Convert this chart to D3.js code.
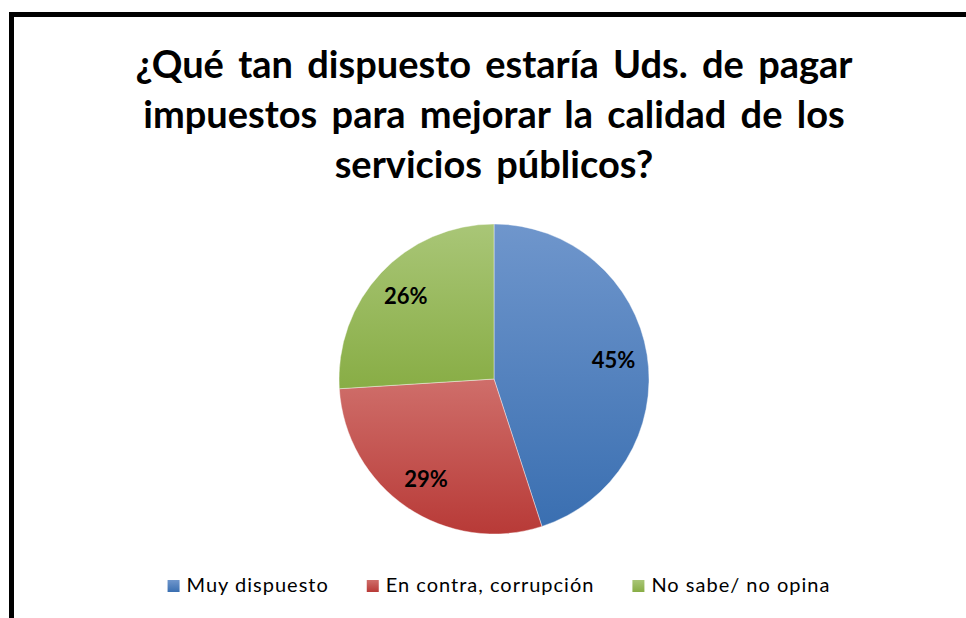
<!DOCTYPE html>
<html>
<head>
<meta charset="utf-8">
<script src="https://cdn.jsdelivr.net/npm/d3@7"></script>
<style>
  html, body { margin: 0; padding: 0; background: #fff; }
  svg { display: block; }
</style>
</head>
<body>
<svg id="chart" width="966" height="618"></svg>
<script>
// datos de la encuesta
var categories = ["Muy dispuesto", "En contra, corrupción", "No sabe/ no opina"];
var values = [45, 29, 26];
var labels = ["45%", "29%", "26%"];
var titleLines = ["¿Qué tan dispuesto estaría Uds. de pagar",
                  "impuestos para mejorar la calidad de los",
                  "servicios públicos?"];

// colores tipo Excel 2007 (claro arriba, oscuro abajo)
var topColors = ["#6f96cc", "#cf6e6a", "#a9c677"];
var bottomColors = ["#3a6fb1", "#b83a37", "#88ad45"];

var svg = d3.select("#chart"),
    width = +svg.attr("width"),
    height = +svg.attr("height"),
    cx = 494, cy = 379, radius = 155;

svg.append("rect")
    .attr("x", 11.5).attr("y", 14.5)
    .attr("width", 1000).attr("height", 700)
    .attr("fill", "#fff")
    .attr("stroke", "#000")
    .attr("stroke-width", 5);

var defs = svg.append("defs");
categories.forEach(function(c, i) {
  var grad = defs.append("linearGradient")
      .attr("id", "grad" + i)
      .attr("x1", 0).attr("y1", 0).attr("x2", 0).attr("y2", 1);
  grad.append("stop").attr("offset", "0%").attr("stop-color", topColors[i]);
  grad.append("stop").attr("offset", "100%").attr("stop-color", bottomColors[i]);
});

// titulo
svg.append("text")
    .attr("x", cx)
    .attr("y", 78)
    .attr("text-anchor", "middle")
    .style("font-family", "Lato, 'Open Sans', sans-serif")
    .style("font-weight", "bold")
    .style("font-size", "38px")
    .style("word-spacing", "5px")
    .style("fill", "#000")
  .selectAll("tspan")
  .data(titleLines)
  .enter().append("tspan")
    .attr("x", cx)
    .attr("dy", function(d, i) { return i === 0 ? 0 : 50; })
    .text(function(d) { return d; });

var pie = d3.pie().sort(null).value(function(d) { return d; });
var arc = d3.arc().innerRadius(0).outerRadius(radius);
var labelArc = d3.arc().innerRadius(121).outerRadius(121);

var g = svg.append("g").attr("transform", "translate(" + cx + "," + cy + ")");

var slices = g.selectAll(".slice")
    .data(pie(values))
    .enter().append("g")
    .attr("class", "slice");

slices.append("path")
    .attr("d", arc)
    .attr("fill", function(d, i) { return "url(#grad" + i + ")"; })
    .attr("stroke", "rgba(255,255,255,0.5)")
    .attr("stroke-width", 0.8);

slices.append("text")
    .attr("transform", function(d) { return "translate(" + labelArc.centroid(d) + ")"; })
    .attr("dy", "0.35em")
    .attr("text-anchor", "middle")
    .style("font-family", "Lato, 'Open Sans', sans-serif")
    .style("font-weight", "bold")
    .style("font-size", "22px")
    .style("fill", "#000")
    .text(function(d, i) { return labels[i]; });

// leyenda
var legend = svg.append("g").attr("class", "legend");
var items = legend.selectAll(".item")
    .data(categories)
    .enter().append("g")
    .attr("class", "item");

items.append("rect")
    .attr("width", 12).attr("height", 12)
    .attr("y", 580)
    .attr("fill", function(d, i) { return "url(#grad" + i + ")"; });

items.append("text")
    .attr("x", 19)
    .attr("y", 592)
    .style("font-family", "Lato, 'Open Sans', sans-serif")
    .style("font-size", "20px")
    .style("letter-spacing", "1px")
    .style("fill", "#000")
    .text(function(d) { return d; });

var widths = [];
items.each(function() { widths.push(this.getBBox().width); });
var gap = 38;
var total = d3.sum(widths) + gap * (widths.length - 1);
var xpos = 499 - total / 2;
items.attr("transform", function(d, i) {
  var x = xpos;
  xpos += widths[i] + gap;
  return "translate(" + x + ",0)";
});
</script>
</body>
</html>
